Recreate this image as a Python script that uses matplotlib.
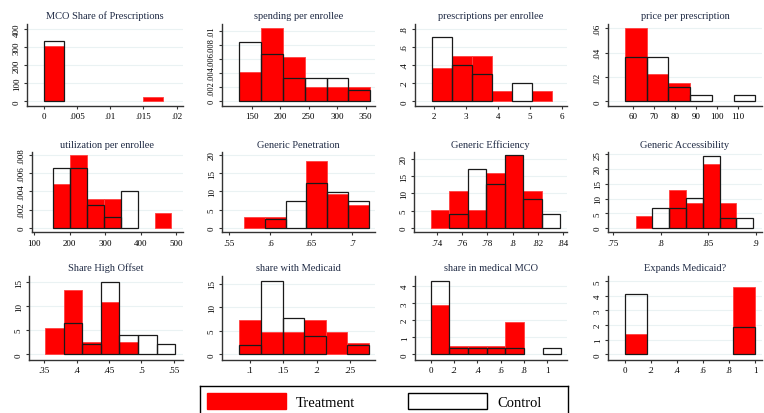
import matplotlib
matplotlib.use("Agg")
import matplotlib.pyplot as plt
from matplotlib.patches import Patch

plt.rcParams['font.family'] = ['Liberation Serif', 'DejaVu Serif']

# histogram densities: bin start, bin width, bar heights (treatment / control)
mco_tr = [305, 0, 0, 0, 0, 23]
mco_ct = [333]
mco_bins = (0.0, 0.003)

spend_tr = [0.0042, 0.01038, 0.00623, 0.00208, 0.00208, 0.00208]
spend_ct = [0.00835, 0.00665, 0.00325, 0.00325, 0.00325, 0.0016]
spend_bins = (128.4, 38.25)

rx_tr = [0.367, 0.495, 0.495, 0.117, 0, 0.117]
rx_ct = [0.705, 0.396, 0.297, 0, 0.198]
rx_bins = (1.927, 0.625)

price_tr = [0.06, 0.0225, 0.0148]
price_ct = [0.0362, 0.0362, 0.0115, 0.0055, 0, 0.0055]
price_bins = (56.0, 10.4)

util_tr = [0.0048, 0.008, 0.00316, 0.00316, 0, 0, 0.0016]
util_ct = [0.0065, 0.0065, 0.00255, 0.00124, 0.004]
util_bins = (153.8, 47.6)

pen_tr = [2.9, 2.9, 0, 18.3, 9.3, 6.2]
pen_ct = [0, 2.4, 7.3, 12.2, 9.9, 7.3]
pen_bins = (0.5679, 0.0254)

eff_tr = [5.2, 10.7, 5.2, 15.8, 21.2, 10.6]
eff_ct = [0, 4.1, 17.0, 12.7, 21.2, 8.3, 4.1]
eff_bins = (0.7353, 0.0146)

acc_tr = [4.2, 0, 12.8, 8.6, 21.6, 8.5]
acc_ct = [0, 6.9, 6.9, 10.2, 24.4, 3.3, 3.3]
acc_bins = (0.7735, 0.0177)

off_tr = [5.4, 13.4, 2.6, 10.8, 2.6]
off_ct = [0, 6.4, 2.1, 15.1, 4.1, 4.1, 2.1]
off_bins = (0.351, 0.0288)

mcd_tr = [7.2, 4.7, 4.7, 7.2, 4.7, 2.3]
mcd_ct = [1.9, 15.5, 7.7, 3.8, 0, 1.9]
mcd_bins = (0.084, 0.0324)

med_tr = [2.9, 0.47, 0.47, 0.47, 1.92]
med_ct = [4.3, 0.38, 0.38, 0.38, 0.38, 0, 0.38]
med_bins = (0.0, 0.16)

exp_tr = [1.4, 0, 0, 0, 0, 4.6]
exp_ct = [4.15, 0, 0, 0, 0, 1.85]
exp_bins = (0.0, 1 / 6)

titles = ["MCO Share of Prescriptions", "spending per enrollee",
          "prescriptions per enrollee", "price per prescription",
          "utilization per enrollee", "Generic Penetration",
          "Generic Efficiency", "Generic Accessibility",
          "Share High Offset", "share with Medicaid",
          "share in medical MCO", "Expands Medicaid?"]

xticks = [[0, .005, .01, .015, .02], [150, 200, 250, 300, 350], [2, 3, 4, 5, 6],
          [60, 70, 80, 90, 100, 110], [100, 200, 300, 400, 500], [.55, .6, .65, .7],
          [.74, .76, .78, .8, .82, .84], [.75, .8, .85, .9], [.35, .4, .45, .5, .55],
          [.1, .15, .2, .25], [0, .2, .4, .6, .8, 1], [0, .2, .4, .6, .8, 1]]
yticks = [[0, 100, 200, 300, 400], [0, .002, .004, .006, .008, .01], [0, .2, .4, .6, .8],
          [0, .02, .04, .06], [0, .002, .004, .006, .008], [0, 5, 10, 15, 20],
          [0, 5, 10, 15, 20], [0, 5, 10, 15, 20, 25], [0, 5, 10, 15],
          [0, 5, 10, 15], [0, 1, 2, 3, 4], [0, 1, 2, 3, 4, 5]]

xlims = [(-0.00251, 0.02095), (97.9, 366.3), (1.406, 6.156), (47.9, 121.6),
         (93.5, 519.8), (0.5411, 0.7277), (0.7221, 0.8429), (0.7444, 0.9066),
         (0.3263, 0.5644), (0.058, 0.2875), (-0.1345, 1.169), (-0.1308, 1.054)]
ylims = [(-26, 427.7), (-0.000666, 0.01095), (-0.0518, 0.852), (-0.00386, 0.0635),
         (-0.00047, 0.00826), (-1.17, 20.65), (-1.25, 21.94), (-1.46, 25.68),
         (-1.18, 16.31), (-1.21, 16.7), (-0.335, 4.62), (-0.39, 5.38)]

panels = [(mco_tr, mco_ct, mco_bins), (spend_tr, spend_ct, spend_bins),
          (rx_tr, rx_ct, rx_bins), (price_tr, price_ct, price_bins),
          (util_tr, util_ct, util_bins), (pen_tr, pen_ct, pen_bins),
          (eff_tr, eff_ct, eff_bins), (acc_tr, acc_ct, acc_bins),
          (off_tr, off_ct, off_bins), (mcd_tr, mcd_ct, mcd_bins),
          (med_tr, med_ct, med_bins), (exp_tr, exp_ct, exp_bins)]

W, H = 764, 414
row_lefts = [[27, 222, 415, 608], [32, 222, 414, 608], [29, 222, 415, 608]]
col_rights = [183, 375, 567, 762]
row_spans = [(25, 107), (153.3, 233.3), (276.7, 361)]


def stata_fmt(v):
    s = '%g' % v
    if s.startswith('0.'):
        s = s[1:]
    return s


def draw_bars(ax, heights, bins, **kw):
    lo, w = bins
    lefts = [lo + i * w for i, h in enumerate(heights) if h > 0]
    hs = [h for h in heights if h > 0]
    ax.bar(lefts, hs, width=w, align='edge', **kw)


fig = plt.figure(figsize=(W / 100, H / 100), dpi=100)

for i, (tr, ct, bins) in enumerate(panels):
    r, c = divmod(i, 4)
    left, right = row_lefts[r][c], col_rights[c]
    top, bottom = row_spans[r]
    ax = fig.add_axes([left / W, 1 - bottom / H, (right - left) / W, (bottom - top) / H])

    draw_bars(ax, tr, bins, color='#ff0000', edgecolor='#ff4040', linewidth=0.6, zorder=2)
    draw_bars(ax, ct, bins, fill=False, edgecolor='#1a1a1a', linewidth=0.9, zorder=3)

    ax.set_xlim(*xlims[i])
    ax.set_ylim(*ylims[i])
    ax.set_xticks(xticks[i])
    ax.set_xticklabels([stata_fmt(v) for v in xticks[i]])
    ax.set_yticks(yticks[i])
    ax.set_yticklabels([stata_fmt(v) for v in yticks[i]], rotation=90, va='center')
    ax.grid(axis='y', color='#eaf2f3', linewidth=0.8, zorder=0)
    ax.set_axisbelow(True)
    for side in ('top', 'right'):
        ax.spines[side].set_visible(False)
    for side in ('left', 'bottom'):
        ax.spines[side].set_color('#333333')
        ax.spines[side].set_linewidth(1.0)
    ysize = 6.0 if len(yticks[i]) > 5 and yticks[i][-1] < 0.1 else 6.5
    ax.tick_params(axis='x', labelsize=6.5)
    ax.tick_params(axis='y', labelsize=ysize)
    ax.tick_params(length=2.5, width=0.8, color='#333333', pad=2)
    ax.set_title(titles[i], fontsize=7.5, color='#1f2a44', pad=4)

# legend box along the bottom edge, running past the bottom of the figure
lax = fig.add_axes([200 / W, -4 / H, 368 / W, 31 / H])
lax.set_xticks([])
lax.set_yticks([])
for sp in lax.spines.values():
    sp.set_color('black')
    sp.set_linewidth(1.0)
lax.legend(handles=[Patch(facecolor='#ff0000', edgecolor='#ff0000'),
                    Patch(facecolor='white', edgecolor='black')],
           labels=['Treatment', 'Control'], loc='upper left',
           bbox_to_anchor=(0.0, 1.0), ncol=2, frameon=False,
           handlelength=5.4, handleheight=1.3, handletextpad=0.7,
           columnspacing=3.6, borderpad=0.35, borderaxespad=0.15, fontsize=10.5)

fig.savefig('out.png', dpi=100)
